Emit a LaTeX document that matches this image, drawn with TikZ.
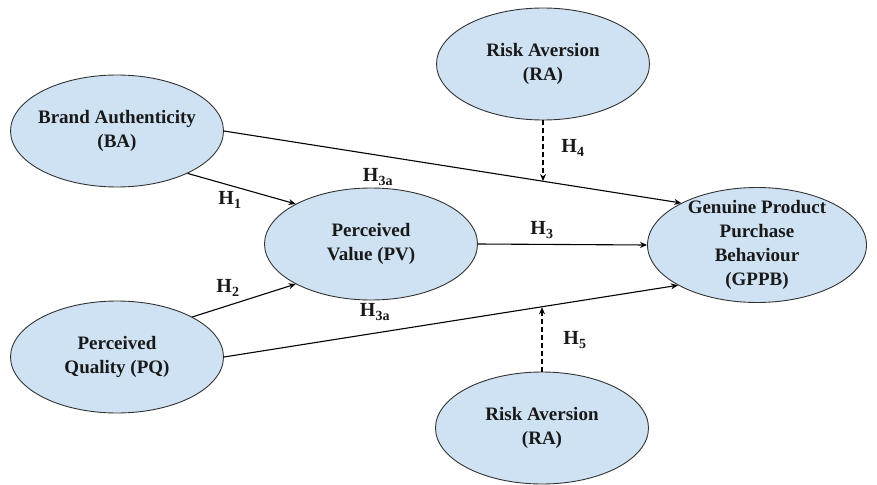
\documentclass[tikz,border=0pt]{standalone}
\usepackage{fontspec}
\setmainfont{Liberation Serif}
\usetikzlibrary{shapes.geometric, arrows.meta, positioning}
\definecolor{varblue}{RGB}{207,226,243}

\begin{document}
\begin{tikzpicture}[x=1pt,y=-1pt,var/.style={ellipse, draw=black!80, line width=0.9pt, fill=varblue,
     minimum width=213pt, minimum height=112pt, inner sep=0pt},txt/.style={font=\bfseries\fontsize{19}{24}\selectfont,
     align=center, text=black!90},hyp/.style={font=\bfseries\fontsize{20}{22}\selectfont, text=black!90},
     arrow/.style={line width=1.1pt, -{Stealth[length=7pt,width=6pt]}},modarrow/.style={arrow, dash pattern=on 5pt off 3pt}]
     \useasboundingbox (0,0) rectangle (877,484);
     \node (ba) [var, label={[txt]center:Brand Authenticity\\(BA)}] at (117,131) {};
     \node (ra1) [var, label={[txt]center:Risk Aversion\\(RA)}] at (543,64) {};
     \node (pv) [var, label={[txt]center:Perceived\\Value (PV)}] at (371,244) {};
     \node (gppb) [var, minimum width=219pt, minimum height=115pt,
       label={[txt]center:Genuine Product\\Purchase\\Behaviour\\(GPPB)}] at (757,245) {};
     \node (pq) [var, label={[txt]center:Perceived\\Quality (PQ)}] at (117,357) {};
     \node (ra2) [var, label={[txt]center:Risk Aversion\\(RA)}] at (542,428) {};
     \draw [arrow] (ba.east) -- (gppb.151);\draw [arrow] (ba.-31) -- (pv.152);
     \draw [arrow] (pq.28) -- (pv.208);\draw [arrow] (pq.east) -- (gppb.207);
     \draw [arrow] (pv.east) -- (gppb.west);
     \path (ba.east) -- coordinate[pos=0.695] (h4end) (gppb.151);\path (pq.east) -- coordinate[pos=0.694] (h5end) (gppb.207);
     \draw [modarrow] (ra1.south) -- (ra1.south |- h4end);\draw [modarrow] (ra2.north) -- (ra2.north |- h5end);
     \node (h1) [hyp] at (230,200) {H\textsubscript{1}};\node (h2) [hyp] at (228,288) {H\textsubscript{2}};
     \node (h3at) [hyp] at (378,177) {H\textsubscript{3a}};\node (h3ab) [hyp] at (375,312) {H\textsubscript{3a}};
     \node (h3) [hyp] at (542,230) {H\textsubscript{3}};\node (h4) [hyp] at (573,148) {H\textsubscript{4}};
     \node (h5) [hyp] at (575,340) {H\textsubscript{5}};
\end{tikzpicture}
\end{document}
